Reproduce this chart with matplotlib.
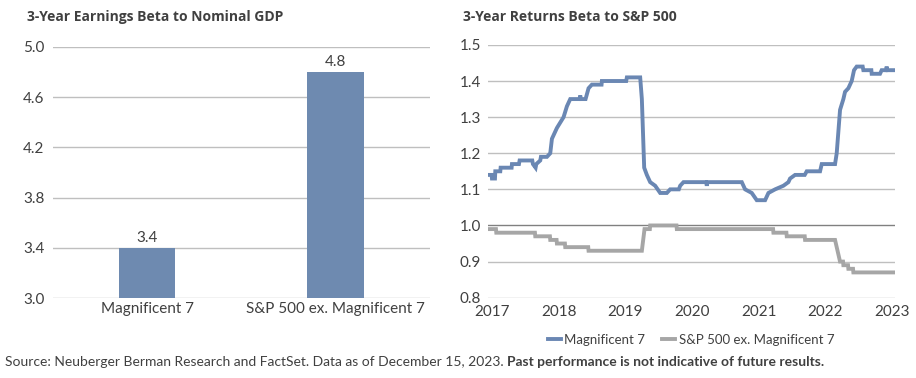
import matplotlib
matplotlib.use("Agg")
import matplotlib.pyplot as plt
from matplotlib import font_manager as fm

# ---------------- data ----------------
bar_categories = ["Magnificent 7", "S&P 500 ex. Magnificent 7"]
bar_values = [3.4, 4.8]
bar_labels = ["3.4", "4.8"]

mag7_x = [2016.945, 2016.99, 2016.995, 2017.04, 2017.045, 2017.12, 2017.125, 2017.17, 2017.175,
          2017.29, 2017.295, 2017.40, 2017.41, 2017.60, 2017.61, 2017.65, 2017.66, 2017.72,
          2017.73, 2017.82, 2017.87, 2017.895, 2017.97, 2018.07, 2018.12, 2018.17, 2018.31,
          2018.32, 2018.33, 2018.40, 2018.445, 2018.495, 2018.64, 2018.645, 2019.01, 2019.02,
          2019.22, 2019.245, 2019.28, 2019.32, 2019.37, 2019.445, 2019.52, 2019.62, 2019.67,
          2019.80, 2019.82, 2019.87, 2020.21, 2020.22, 2020.23, 2020.745, 2020.795, 2020.895,
          2020.97, 2021.095, 2021.145, 2021.245, 2021.37, 2021.445, 2021.47, 2021.545, 2021.69,
          2021.72, 2021.92, 2021.945, 2022.145, 2022.17, 2022.195, 2022.22, 2022.27, 2022.295,
          2022.345, 2022.395, 2022.43, 2022.47, 2022.56, 2022.57, 2022.69, 2022.695, 2022.82,
          2022.845, 2022.91, 2022.92, 2022.93, 2023.045]
mag7_y = [1.14, 1.14, 1.13, 1.13, 1.15, 1.15, 1.16, 1.16, 1.16,
          1.16, 1.17, 1.17, 1.18, 1.18, 1.17, 1.16, 1.17, 1.18,
          1.19, 1.19, 1.20, 1.24, 1.27, 1.30, 1.33, 1.35, 1.35,
          1.36, 1.35, 1.35, 1.38, 1.39, 1.39, 1.40, 1.40, 1.41,
          1.41, 1.35, 1.16, 1.14, 1.12, 1.11, 1.09, 1.09, 1.10,
          1.10, 1.11, 1.12, 1.12, 1.11, 1.12, 1.12, 1.10, 1.09,
          1.07, 1.07, 1.09, 1.10, 1.11, 1.12, 1.13, 1.14, 1.14,
          1.15, 1.15, 1.17, 1.17, 1.20, 1.26, 1.32, 1.35, 1.37,
          1.38, 1.40, 1.43, 1.44, 1.44, 1.43, 1.43, 1.42, 1.42,
          1.43, 1.43, 1.44, 1.43, 1.43]

spx_x = [2016.945, 2017.055, 2017.06, 2017.64, 2017.645, 2017.865, 2017.87, 2017.965, 2017.97,
         2018.09, 2018.095, 2018.44, 2018.445, 2019.245, 2019.285, 2019.365, 2019.37, 2019.765,
         2019.77, 2021.215, 2021.22, 2021.415, 2021.42, 2021.69, 2021.695, 2022.145, 2022.22,
         2022.265, 2022.27, 2022.34, 2022.345, 2022.415, 2022.42, 2023.045]
spx_y = [0.99, 0.99, 0.98, 0.98, 0.97, 0.97, 0.96, 0.96, 0.95,
         0.95, 0.94, 0.94, 0.93, 0.93, 0.99, 0.99, 1.00, 1.00,
         0.99, 0.99, 0.98, 0.98, 0.97, 0.97, 0.96, 0.96, 0.90,
         0.90, 0.89, 0.89, 0.88, 0.88, 0.87, 0.87]

year_ticks = [2017, 2018, 2019, 2020, 2021, 2022, 2023]
left_yticks = [3.0, 3.4, 3.8, 4.2, 4.6, 5.0]
right_yticks = [0.8, 0.9, 1.0, 1.1, 1.2, 1.3, 1.4, 1.5]

series_names = ["Magnificent 7", "S&P 500 ex. Magnificent 7"]
title_left = "3-Year Earnings Beta to Nominal GDP"
title_right = "3-Year Returns Beta to S&P 500"
source_plain = "Source: Neuberger Berman Research and FactSet. Data as of December 15, 2023. "
source_bold = "Past performance is not indicative of future results."

# ---------------- style ----------------
avail = {f.name for f in fm.fontManager.ttflist}
body = "Lato" if "Lato" in avail else "DejaVu Sans"
title_font = "Open Sans" if "Open Sans" in avail else "DejaVu Sans"

BLUE = "#6E8AB0"
LINE_BLUE = "#6A87B3"
GRAY = "#A6A6A6"
GRID = "#BFBFBF"
TXT = "#404040"

W, H = 916, 378
fig = plt.figure(figsize=(W / 100, H / 100), dpi=100)

def fx(px):
    return px / W

def fy(py):
    return 1 - py / H

TICK = 11

# ---------------- left bar chart ----------------
axL = fig.add_axes([fx(52.7), fy(298.3), fx(430 - 52.7), (298.3 - 46.7) / H])
xs = list(range(len(bar_categories)))
axL.bar(xs, [v - 3.0 for v in bar_values], bottom=3.0, width=0.30, color=BLUE, zorder=3)
axL.set_xlim(-0.5, 1.5)
axL.set_ylim(3.0, 5.0)
axL.set_yticks(left_yticks)
axL.set_yticklabels([f"{t:.1f}" for t in left_yticks])
axL.set_xticks(xs)
axL.set_xticklabels(bar_categories)
axL.yaxis.grid(True, color=GRID, linewidth=1.0, zorder=0)
for s in axL.spines.values():
    s.set_visible(False)
axL.tick_params(axis="both", length=0, colors=TXT, labelsize=TICK)
axL.tick_params(axis="y", pad=6)
axL.tick_params(axis="x", pad=3)
for lab in axL.get_xticklabels() + axL.get_yticklabels():
    lab.set_fontfamily(body)
for x, v, t in zip(xs, bar_values, bar_labels):
    axL.annotate(t, (x, v), xytext=(0, 2), textcoords="offset points", ha="center",
                 va="bottom", fontsize=TICK, color=TXT, fontfamily=body)
fig.text(fx(27), fy(17), title_left, fontsize=10, fontweight="bold", color=TXT,
         fontfamily=title_font, va="center", ha="left")

# ---------------- right line chart ----------------
axR = fig.add_axes([fx(488.3), fy(297.7), fx(895 - 488.3), (297.7 - 44.9) / H])
axR.plot(mag7_x, mag7_y, color=LINE_BLUE, linewidth=2.8, solid_joinstyle="miter", zorder=4,
         label=series_names[0])
axR.plot(spx_x, spx_y, color=GRAY, linewidth=2.8, solid_joinstyle="miter", zorder=3,
         label=series_names[1])
axR.set_xlim(2016.94, 2023.045)
axR.set_ylim(0.8, 1.5)
axR.set_yticks(right_yticks)
axR.set_yticklabels([f"{t:.1f}" for t in right_yticks])
axR.set_xticks(year_ticks)
axR.set_xticklabels([str(y) for y in year_ticks])
axR.yaxis.grid(True, color=GRID, linewidth=1.0, zorder=0)
for g, t in zip(axR.get_ygridlines(), right_yticks):
    if abs(t - 1.0) < 1e-9:
        g.set_color("#808080")
for s in axR.spines.values():
    s.set_visible(False)
axR.tick_params(axis="both", length=0, colors=TXT, labelsize=TICK)
axR.tick_params(axis="y", pad=5)
axR.tick_params(axis="x", pad=5)
for lab in axR.get_xticklabels() + axR.get_yticklabels():
    lab.set_fontfamily(body)
fig.text(fx(463), fy(17), title_right, fontsize=10, fontweight="bold", color=TXT,
         fontfamily=title_font, va="center", ha="left")

leg = fig.legend(handles=axR.get_lines(), labels=series_names, loc="center",
                 bbox_to_anchor=(fx(691), fy(340)), ncol=2, frameon=False,
                 handlelength=1.0, handletextpad=0.25, columnspacing=1.3,
                 prop={"family": body, "size": 9.5})
for t in leg.get_texts():
    t.set_color(TXT)

# ---------------- source ----------------
SRC = 10
t1 = fig.text(fx(5), fy(362), source_plain, fontsize=SRC, color=TXT, fontfamily=body,
              va="center", ha="left")
t2 = fig.text(0, fy(362), source_bold, fontsize=SRC, color=TXT, fontfamily=body,
              fontweight="bold", va="center", ha="left")
fig.canvas.draw()
r = fig.canvas.get_renderer()
w_total = t1.get_window_extent(r).width + t2.get_window_extent(r).width
scale = 820 / w_total
t1.set_fontsize(SRC * scale)
t2.set_fontsize(SRC * scale)
fig.canvas.draw()
bb = t1.get_window_extent(r)
t2.set_x(bb.x1 / W)

fig.savefig("out.png", dpi=100)
